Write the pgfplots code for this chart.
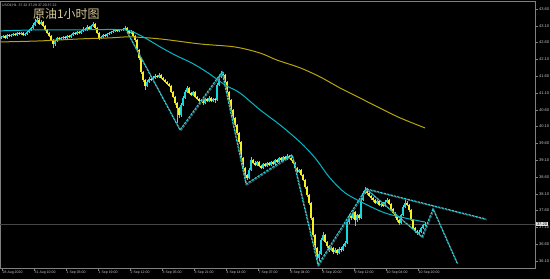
\documentclass[border=0pt]{standalone}
\usepackage{pgfplots}
\pgfplotsset{compat=1.18}
\usepackage{pgfplotstable}
\usepackage{fontspec}
\setmainfont{Liberation Sans}
\newfontfamily\cjk{Noto Sans CJK SC}
\definecolor{upc}{RGB}{20,215,225}
\definecolor{downc}{RGB}{245,240,30}
\definecolor{wickc}{RGB}{195,185,60}
\definecolor{tealma}{RGB}{0,185,200}
\definecolor{olivema}{RGB}{185,165,10}
\definecolor{trendc}{RGB}{40,210,220}
\definecolor{titlec}{RGB}{215,200,150}
\definecolor{framec}{RGB}{128,128,128}
\definecolor{labc}{RGB}{200,200,200}
\definecolor{pricec}{RGB}{70,70,70}
\definecolor{shadowc}{RGB}{90,90,90}

\pgfplotstableread{
x o h l c
1 42.74 42.80 42.71 42.77
3 42.77 42.83 42.74 42.80
5 42.80 42.83 42.71 42.74
7 42.74 42.86 42.72 42.83
9 42.83 42.86 42.77 42.80
11 42.80 42.86 42.77 42.83
13 42.83 42.89 42.80 42.86
15 42.86 42.89 42.80 42.83
17 42.83 42.92 42.80 42.89
19 42.89 42.92 42.83 42.86
21 42.86 42.92 42.83 42.89
23 42.89 42.92 42.80 42.83
25 42.83 42.89 42.80 42.86
27 42.86 42.95 42.83 42.92
29 42.92 43.01 42.89 42.98
31 42.98 43.07 42.95 43.04
33 43.04 43.19 43.01 43.13
35 43.13 43.30 43.10 43.22
37 43.22 43.36 43.19 43.27
39 43.27 43.30 43.13 43.16
41 43.16 43.27 43.13 43.22
43 43.22 43.25 43.07 43.10
45 43.10 43.13 42.95 42.98
47 42.98 43.01 42.86 42.89
49 42.89 42.92 42.77 42.80
51 42.80 42.83 42.65 42.68
53 42.68 42.71 42.44 42.56
55 42.56 42.68 42.50 42.65
57 42.65 42.77 42.62 42.74
59 42.74 42.77 42.68 42.71
61 42.71 42.77 42.68 42.74
63 42.74 42.80 42.71 42.77
65 42.77 42.80 42.71 42.74
67 42.74 42.83 42.71 42.80
69 42.80 42.83 42.74 42.77
71 42.77 42.86 42.74 42.83
73 42.83 42.92 42.80 42.89
75 42.89 42.92 42.83 42.86
77 42.86 42.95 42.83 42.92
79 42.92 42.95 42.86 42.89
81 42.89 42.98 42.86 42.95
83 42.95 43.07 42.92 43.01
85 43.01 43.04 42.95 42.98
87 42.98 43.13 42.95 43.07
89 43.07 43.10 42.98 43.01
91 43.01 43.13 42.98 43.10
93 43.10 43.22 43.07 43.16
95 43.16 43.19 43.01 43.04
97 43.04 43.07 42.86 42.89
99 42.89 42.92 42.68 42.74
101 42.74 42.80 42.71 42.77
103 42.77 42.86 42.74 42.83
105 42.83 42.86 42.77 42.80
107 42.80 42.89 42.77 42.86
109 42.86 42.92 42.83 42.89
111 42.89 42.95 42.86 42.92
113 42.92 42.98 42.89 42.95
115 42.95 43.01 42.92 42.98
117 42.98 43.01 42.92 42.95
119 42.95 43.01 42.92 42.98
121 42.98 43.01 42.95 42.98
123 42.98 43.04 42.95 43.01
125 43.01 43.10 42.98 43.04
127 43.04 43.07 42.92 42.95
129 42.95 42.98 42.86 42.89
131 42.89 42.98 42.86 42.92
133 42.92 42.95 42.77 42.80
135 42.80 42.83 42.62 42.68
137 42.68 42.71 42.32 42.38
139 42.38 42.41 42.08 42.14
141 42.14 42.17 41.67 41.73
143 41.73 41.76 41.43 41.49
145 41.49 41.52 41.19 41.31
147 41.31 41.49 41.28 41.43
149 41.43 41.58 41.40 41.52
151 41.52 41.58 41.46 41.49
153 41.49 41.61 41.46 41.55
155 41.55 41.67 41.52 41.61
157 41.61 41.64 41.55 41.58
159 41.58 41.70 41.55 41.64
161 41.64 41.67 41.52 41.55
163 41.55 41.58 41.46 41.49
165 41.49 41.52 41.40 41.43
167 41.43 41.46 41.34 41.37
169 41.37 41.40 41.28 41.31
171 41.31 41.34 41.10 41.13
173 41.13 41.16 40.95 40.98
175 40.98 41.01 40.74 40.80
177 40.80 40.83 40.21 40.65
179 40.65 40.68 40.36 40.45
181 40.45 40.80 40.39 40.75
183 40.75 41.01 40.72 40.95
185 40.95 41.19 40.92 41.13
187 41.13 41.31 41.10 41.25
189 41.25 41.28 41.07 41.10
191 41.10 41.13 41.01 41.04
193 41.04 41.16 41.01 41.13
195 41.13 41.16 40.95 40.98
197 40.98 41.01 40.89 40.92
199 40.92 40.95 40.83 40.86
201 40.86 40.92 40.83 40.89
203 40.89 40.92 40.74 40.80
205 40.80 40.95 40.77 40.92
207 40.92 40.95 40.83 40.86
209 40.86 41.01 40.83 40.95
211 40.95 40.98 40.83 40.86
213 40.86 40.95 40.83 40.92
215 40.92 40.95 40.80 40.89
217 40.89 41.40 40.86 41.34
219 41.34 41.64 41.31 41.58
221 41.58 41.76 41.55 41.67
223 41.67 41.73 41.58 41.64
225 41.64 41.67 41.40 41.43
227 41.43 41.46 41.07 41.13
229 41.13 41.16 40.83 40.89
231 40.89 40.92 40.54 40.60
233 40.60 40.63 40.30 40.36
235 40.36 40.39 40.09 40.15
237 40.15 40.18 39.85 39.91
239 39.91 39.94 39.58 39.64
241 39.64 39.67 39.11 39.17
243 39.17 39.20 38.81 38.87
245 38.87 38.90 38.42 38.66
247 38.66 38.69 38.51 38.57
249 38.57 38.87 38.54 38.81
251 38.81 39.20 38.78 39.11
253 39.11 39.14 38.99 39.02
255 39.02 39.08 38.93 38.96
257 38.96 39.08 38.93 39.05
259 39.05 39.08 38.90 38.93
261 38.93 38.96 38.84 38.87
263 38.87 39.02 38.84 38.99
265 38.99 39.02 38.90 38.93
267 38.93 39.05 38.90 39.02
269 39.02 39.05 38.93 38.96
271 38.96 39.08 38.93 39.05
273 39.05 39.08 38.96 38.99
275 38.99 39.14 38.96 39.11
277 39.11 39.14 39.02 39.05
279 39.05 39.20 39.02 39.17
281 39.17 39.20 39.08 39.11
283 39.11 39.23 39.08 39.20
285 39.20 39.23 39.11 39.14
287 39.14 39.29 39.11 39.23
289 39.23 39.26 39.14 39.17
291 39.17 39.20 39.08 39.11
293 39.11 39.14 38.99 39.02
295 39.02 39.05 38.84 38.87
297 38.87 38.90 38.72 38.75
299 38.75 38.84 38.72 38.81
301 38.81 38.84 38.63 38.66
303 38.66 38.69 38.48 38.51
305 38.51 38.54 38.25 38.31
307 38.31 38.34 38.01 38.07
309 38.07 38.10 37.77 37.83
311 37.83 37.86 37.32 37.38
313 37.38 37.41 36.82 36.88
315 36.88 36.91 36.43 36.49
317 36.49 36.52 36.04 36.19
319 36.19 36.40 36.10 36.31
321 36.31 36.79 36.28 36.73
323 36.73 36.97 36.70 36.88
325 36.88 36.91 36.64 36.67
327 36.67 36.70 36.49 36.55
329 36.55 36.58 36.37 36.43
331 36.43 36.55 36.40 36.49
333 36.49 36.52 36.31 36.37
335 36.37 36.49 36.34 36.43
337 36.43 36.46 36.28 36.34
339 36.34 36.52 36.31 36.46
341 36.46 36.52 36.37 36.43
343 36.43 36.61 36.40 36.55
345 36.55 36.70 36.52 36.64
347 36.64 37.32 36.61 37.26
349 37.26 37.50 37.20 37.44
351 37.44 37.50 37.32 37.38
353 37.38 37.62 37.35 37.56
355 37.56 37.59 37.14 37.32
357 37.32 37.50 37.26 37.47
359 37.47 37.50 37.32 37.38
361 37.38 37.98 37.35 37.92
363 37.92 38.19 37.89 38.13
365 38.13 38.31 38.10 38.22
367 38.22 38.28 38.07 38.13
369 38.13 38.16 38.01 38.04
371 38.04 38.07 37.92 37.98
373 37.98 38.01 37.86 37.92
375 37.92 37.95 37.80 37.83
377 37.83 37.92 37.80 37.89
379 37.89 37.92 37.74 37.77
381 37.77 37.83 37.71 37.80
383 37.80 37.86 37.71 37.74
385 37.74 37.92 37.71 37.86
387 37.86 37.98 37.83 37.92
389 37.92 37.95 37.77 37.80
391 37.80 37.83 37.62 37.65
393 37.65 37.68 37.50 37.53
395 37.53 37.56 37.38 37.44
397 37.44 37.47 37.26 37.32
399 37.32 37.35 37.17 37.23
401 37.23 37.50 37.20 37.47
403 37.47 37.77 37.44 37.71
405 37.71 37.92 37.68 37.83
407 37.83 37.89 37.74 37.77
409 37.77 37.80 37.56 37.62
411 37.62 37.65 37.29 37.32
413 37.32 37.35 37.02 37.08
415 37.08 37.11 36.93 36.99
417 36.99 37.02 36.87 36.93
419 36.93 37.02 36.88 36.96
421 36.96 37.11 36.93 37.08
423 37.08 37.20 37.05 37.17
425 37.17 37.26 37.14 37.21
}\bars

\begin{document}
\begin{tikzpicture}
\useasboundingbox (0,0) rectangle (550bp,279bp);
\fill[black] (0,0) rectangle (550bp,279bp);
\begin{axis}[
  at={(0bp,11bp)}, anchor=south west,
  width=535bp, height=267bp, scale only axis,
  xmin=0, xmax=535, ymin=35.892, ymax=43.838,
  clip mode=individual,
  axis line style={draw=framec, line width=0.6bp},
  tick align=outside, major tick length=3bp,
  tick style={draw=framec, line width=0.5bp},
  xtick pos=left, ytick pos=right, yticklabel pos=right,
  xtick={2,34,66,98,130,162,194,226,258,290,322,354,386,418},
  xticklabels={28 Aug 2020,31 Aug 10:00,1 Sep 03:00,1 Sep 19:00,2 Sep 12:00,3 Sep 05:00,3 Sep 21:00,4 Sep 14:00,7 Sep 07:00,8 Sep 04:00,8 Sep 20:00,9 Sep 12:00,10 Sep 04:00,10 Sep 20:00},
  xticklabel style={anchor=north west, font=\fontsize{3.5}{4}\selectfont, text=labc, inner sep=0.5bp, yshift=0.5bp},
  ytick={36.10,36.60,37.10,37.60,38.10,38.60,39.10,39.60,40.10,40.60,41.10,41.60,42.10,42.60,43.10,43.60},
  yticklabels={36.10,36.60,37.10,37.60,38.10,38.60,39.10,39.60,40.10,40.60,41.10,41.60,42.10,42.60,43.10,43.60},
  yticklabel style={anchor=west, font=\fontsize{4}{4.5}\selectfont, text=labc, inner sep=1bp},
]
% current price line
\addplot[draw=pricec, line width=0.6bp, forget plot] coordinates {(0,37.20) (535,37.20)};
% wicks
\addplot[draw=none, mark=none, forget plot,
  error bars/.cd, y dir=plus, y explicit, error mark=none,
  error bar style={draw=wickc, line width=0.6bp, solid}]
  table[x=x, y=l, y error plus expr=\thisrow{h}-\thisrow{l}] {\bars};
% up bodies
\addplot[draw=none, mark=none, forget plot,
  restrict expr to domain={\thisrow{c}-\thisrow{o}}{0:20},
  error bars/.cd, y dir=plus, y explicit, error mark=none,
  error bar style={draw=upc, line width=1.4bp, solid}]
  table[x=x, y=o, y error plus expr=\thisrow{c}-\thisrow{o}] {\bars};
% down bodies
\addplot[draw=none, mark=none, forget plot,
  restrict expr to domain={\thisrow{o}-\thisrow{c}}{0.001:20},
  error bars/.cd, y dir=plus, y explicit, error mark=none,
  error bar style={draw=downc, line width=1.4bp, solid}]
  table[x=x, y=c, y error plus expr=\thisrow{o}-\thisrow{c}] {\bars};
% slow MA
\addplot[olivema, line width=1bp, smooth, mark=none] coordinates {
(1,42.62) (40,42.65) (80,42.71) (110,42.74) (130,42.77) (160,42.71) (200,42.56) (235,42.47) (260,42.29) (277,42.08) (300,41.85) (320,41.58) (340,41.25) (360,40.95) (380,40.65) (400,40.36) (425,40.06)};
% fast MA
\addplot[tealma, line width=1bp, smooth, mark=none] coordinates {
(1,42.95) (40,42.98) (80,42.98) (115,42.99) (130,42.95) (145,42.74) (162,42.44) (177,42.20) (192,41.99) (208,41.70) (225,41.34) (240,41.10) (260,40.60) (280,40.15) (300,39.64) (315,39.17) (330,38.57) (345,38.13) (365,37.80) (385,37.53) (405,37.38) (425,37.26)};
% trend line shadows
\addplot[draw=shadowc, line width=1.1bp, dash pattern=on 2.5bp off 1bp, shift={(0.9bp,-0.9bp)}, mark=none] coordinates {
(127,42.92) (180,40.00) (222,41.73) (246,38.39) (292,39.26) (318,35.98) (366,38.25) (486,37.35)};
\addplot[draw=shadowc, line width=1.1bp, dash pattern=on 2.5bp off 1bp, shift={(0.9bp,-0.9bp)}, mark=none] coordinates {
(366,38.25) (422,36.82) (433,37.65) (457,36.04)};
% trend lines
\addplot[draw=trendc, line width=1.1bp, dash pattern=on 2.5bp off 1bp, mark=none] coordinates {
(127,42.92) (180,40.00) (222,41.73) (246,38.39) (292,39.26) (318,35.98) (366,38.25) (486,37.35)};
\addplot[draw=trendc, line width=1.1bp, dash pattern=on 2.5bp off 1bp, mark=none] coordinates {
(366,38.25) (422,36.82) (433,37.65) (457,36.04)};
\end{axis}
\node[anchor=west, fill={rgb,255:red,225;green,225;blue,225}, text=black, font=\fontsize{4}{4.5}\selectfont, inner sep=0.8bp] at (536bp,55bp) {37.20};
\node[anchor=west, text=labc, font=\fontsize{3.5}{4}\selectfont, inner sep=0pt] at (2bp,274bp) {USOil,H1\ \ 37.22 37.29 37.20 37.22};
\node[anchor=west, text=titlec, font=\cjk\fontsize{12}{12}\selectfont, inner sep=0pt] at (33bp,265bp) {原油1小时图};
\end{tikzpicture}
\end{document}
